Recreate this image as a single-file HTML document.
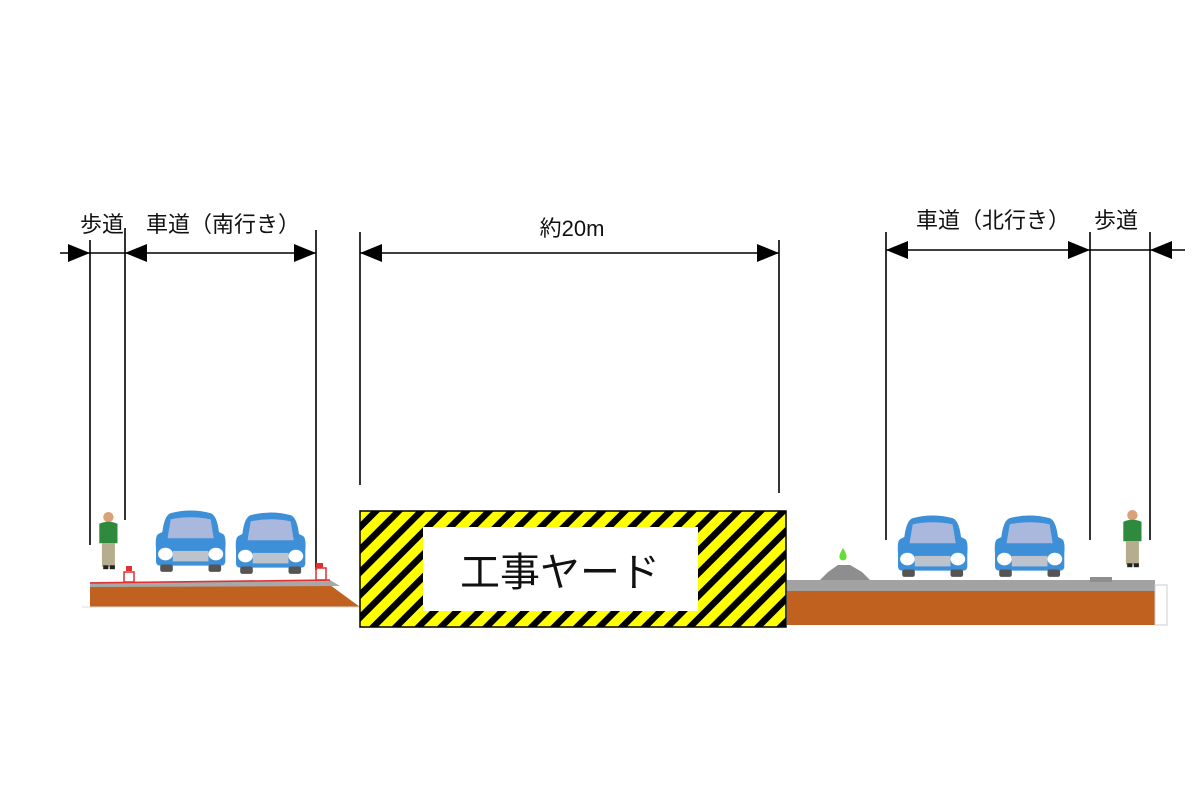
<!DOCTYPE html>
<html><head><meta charset="utf-8"><style>
html,body{margin:0;padding:0;background:#fff;}
svg{display:block;}
text{font-family:"Liberation Sans","Noto Sans CJK JP",sans-serif;fill:#111;}
</style></head><body>
<svg width="1200" height="800" viewBox="0 0 1200 800" xmlns="http://www.w3.org/2000/svg">
<defs>
<pattern id="stripes" patternUnits="userSpaceOnUse" width="16" height="16" patternTransform="rotate(45)">
<rect width="16" height="16" fill="#ffff00"/>
<rect width="6.5" height="16" fill="#000"/>
</pattern>
<g id="car">
<path d="M14 2 Q33 -3 52 2 Q58 4 60 20 L64 22 Q67 24 66 36 L66 48 Q66 52 62 52 L4 52 Q0 52 0 48 L0 36 Q-1 24 2 22 L6 20 Q8 4 14 2Z" fill="#3d8fd8"/>
<path d="M14 8 Q33 4 52 8 L55 26 L11 26Z" fill="#a9b8dc"/>
<rect x="16" y="38" width="34" height="10" fill="#bcc3cc"/>
<ellipse cx="9" cy="41" rx="7" ry="6" fill="#fff"/>
<ellipse cx="57" cy="41" rx="7" ry="6" fill="#fff"/>
<rect x="4" y="51" width="12" height="7" rx="2" fill="#555"/>
<rect x="50" y="51" width="12" height="7" rx="2" fill="#555"/>
</g>
<g id="person">
<circle cx="8" cy="4" r="4" fill="#d9a07a"/>
<path d="M1 9 Q8 6 15 9 L15 24 L1 24Z" fill="#2e8b3e"/>
<rect x="3" y="24" width="10" height="18" fill="#b5ad8e"/>
<rect x="4" y="41" width="4" height="3" fill="#222"/>
<rect x="9" y="41" width="4" height="3" fill="#222"/>
</g>
<path id="ahR" d="M0 0 L-22 -9 L-22 9Z" fill="#000"/>
<path id="ahL" d="M0 0 L22 -9 L22 9Z" fill="#000"/>
</defs>

<g stroke="#000" stroke-width="1.6">
<line x1="90" y1="240" x2="90" y2="545"/>
<line x1="125" y1="228" x2="125" y2="520"/>
<line x1="316" y1="230" x2="316" y2="570"/>
<line x1="60" y1="253" x2="316" y2="253"/>
<line x1="360" y1="232" x2="360" y2="485"/>
<line x1="779" y1="240" x2="779" y2="493"/>
<line x1="360" y1="253" x2="779" y2="253"/>
<line x1="886" y1="232" x2="886" y2="540"/>
<line x1="1090" y1="232" x2="1090" y2="540"/>
<line x1="1150" y1="232" x2="1150" y2="540"/>
<line x1="886" y1="250" x2="1185" y2="250"/>
</g>
<use href="#ahR" x="90" y="253"/>
<use href="#ahL" x="125" y="253"/>
<use href="#ahR" x="316" y="253"/>
<use href="#ahL" x="360" y="253"/>
<use href="#ahR" x="779" y="253"/>
<use href="#ahL" x="886" y="250"/>
<use href="#ahR" x="1090" y="250"/>
<use href="#ahL" x="1150" y="250"/>

<text x="80" y="232" font-size="22">歩道</text>
<text x="146" y="232" font-size="22">車道（南行き）</text>
<text x="572" y="236" font-size="22" text-anchor="middle">約20m</text>
<text x="916" y="228" font-size="22">車道（北行き）</text>
<text x="1094" y="228" font-size="22">歩道</text>

<polygon points="90,585 330,585 360,607 90,607" fill="#c0611f"/>
<line x1="82" y1="607" x2="360" y2="607" stroke="#ddd" stroke-width="1"/>
<polygon points="90,582 330,580 340,586 90,587" fill="#a8a8a8"/>
<line x1="90" y1="583" x2="330" y2="580" stroke="#e03030" stroke-width="1.5"/>
<g fill="none" stroke="#e03030" stroke-width="1.5">
<rect x="124" y="572" width="10" height="10"/>
<rect x="316" y="568" width="10" height="12"/>
</g>
<rect x="126" y="566" width="6" height="5" fill="#e03030"/>
<rect x="316" y="563" width="7" height="5" fill="#e03030"/>

<rect x="787" y="590" width="368" height="35" fill="#c0611f"/>
<rect x="787" y="580" width="368" height="11" fill="#a2a2a2"/>
<polygon points="820,580 828,572 838,565 850,565 862,572 870,580" fill="#8e8e8e"/>
<rect x="1090" y="577" width="22" height="5" fill="#8e8e8e"/>
<path d="M843 548 Q838 556 840 559 Q843 562 846 559 Q848 556 843 548Z" fill="#66dd33"/>
<rect x="1155" y="585" width="12" height="40" fill="#fff" stroke="#ccc" stroke-width="1"/>

<rect x="360" y="511" width="426" height="116" fill="url(#stripes)" stroke="#000" stroke-width="1.5"/>
<rect x="423" y="527" width="275" height="84" fill="#fff"/>
<text x="560" y="586" font-size="40" text-anchor="middle">工事ヤード</text>

<use href="#car" transform="translate(156,511) scale(1.05)"/>
<use href="#car" transform="translate(236,513) scale(1.05)"/>
<use href="#car" transform="translate(898,516) scale(1.05)"/>
<use href="#car" transform="translate(995,516) scale(1.05)"/>

<use href="#person" transform="translate(98,512) scale(1.3)"/>
<use href="#person" transform="translate(1122,510) scale(1.3)"/>
</svg>
</body></html>
